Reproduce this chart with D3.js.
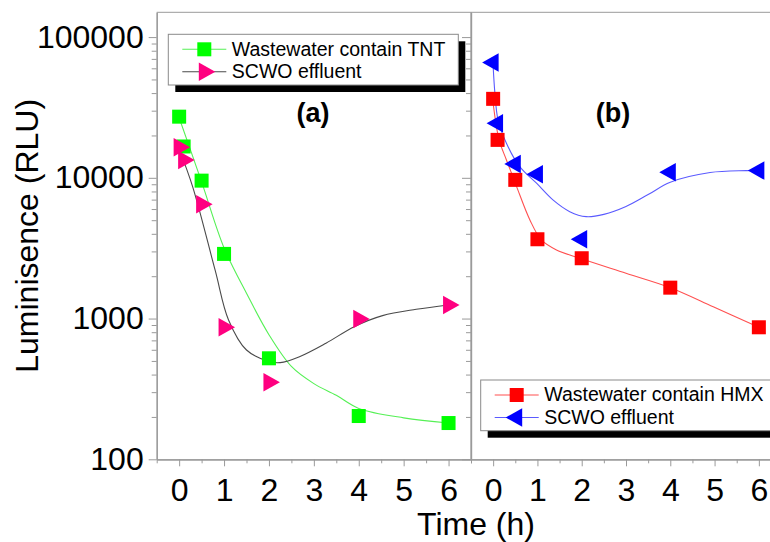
<!DOCTYPE html>
<html>
<head>
<meta charset="utf-8">
<script src="https://cdn.jsdelivr.net/npm/d3@7"></script>
<style>
  html, body { margin: 0; padding: 0; background: #ffffff; }
  svg { display: block; font-family: "Liberation Sans", Arial, sans-serif; }
</style>
</head>
<body>
<svg id="chart" width="770" height="542"></svg>
<script>
// Sampling times (h) shared by all measured series
const times = [0, 0.1, 0.5, 1, 2, 4, 6];

// Panel (a): TNT wastewater and its SCWO effluent (RLU)
const lumTNT = [27200, 16700, 9550, 2880, 522, 203, 181];
const lumEffluentA = [16500, 13400, 6490, 867, 353, 994, 1250];

// Panel (b): HMX wastewater and its SCWO effluent (RLU)
const lumHMX = [36400, 18600, 9670, 3660, 2683, 1658, 867];
const lumEffluentB = [65900, 24400, 12560, 10600, 3660, 10960, 11250];

// Smoothed fit curves, sampled along each trend line
const fitTNTTime = [0, 0.5, 1, 1.5, 2, 2.5, 3, 3.5, 4, 5, 6];
const fitTNTLum = [26700, 9350, 3175, 1513, 768, 457, 345, 285, 230, 197, 181];

const fitEffATime = [0, 0.3, 0.8, 1.1, 1.5, 2, 2.25, 2.68, 3.27, 3.9, 4.53, 5.28, 6];
const fitEffALum = [16000, 8660, 2215, 978, 598, 496, 486, 536, 668, 876, 1049, 1164, 1250];

const fitHMXTime = [0, 0.135, 0.3, 0.53, 0.83, 1.09, 1.43, 1.96, 3, 4, 4.97, 6];
const fitHMXLum = [33900, 18600, 13400, 8660, 5020, 3620, 3073, 2683, 2099, 1658, 1215, 867];

const fitEffBTime = [0, 0.04, 0.11, 0.3, 0.6, 0.98, 1.35, 1.73, 2.1, 2.5, 3, 3.5, 4, 4.9, 5.72, 6];
const fitEffBLum = [62400, 39900, 25800, 17600, 12010, 9155, 6966, 5750, 5300, 5500, 6250, 7600, 9300, 10900, 11250, 11300];

// Axis ticks and labels
const xTicks = [0, 1, 2, 3, 4, 5, 6];
const xMinorTicks = [-0.5, 0.5, 1.5, 2.5, 3.5, 4.5, 5.5, 6.5];
const yTicks = [100, 1000, 10000, 100000];
const yMinorTicks = [200, 300, 400, 500, 600, 700, 800, 900,
  2000, 3000, 4000, 5000, 6000, 7000, 8000, 9000,
  20000, 30000, 40000, 50000, 60000, 70000, 80000, 90000];

const legendA = ["Wastewater contain TNT", "SCWO effluent"];
const legendB = ["Wastewater contain HMX", "SCWO effluent"];
const panelLabels = ["(a)", "(b)"];
const yTitle = "Luminisence (RLU)";
const xTitle = "Time (h)";

// ---- layout ----
const plotTop = 12.3, plotBottom = 459.3, plotLeft = 156.7, divider = 471, plotRightB = 781;
const frameColor = "#9a9a9a";
const font = 32;

const svg = d3.select("#chart");

const y = d3.scaleLog().domain([100, 150000]).range([plotBottom, plotTop]);
const xA = d3.scaleLinear().domain([-0.5, 6.5]).range([plotLeft, divider]);
const xB = d3.scaleLinear().domain([-0.5, 6.5]).range([divider, plotRightB]);

// ---- frame ----
svg.append("line").attr("x1", plotLeft).attr("x2", plotRightB).attr("y1", plotTop).attr("y2", plotTop)
  .attr("stroke", frameColor).attr("stroke-width", 1);
svg.append("line").attr("x1", divider).attr("x2", divider).attr("y1", plotTop).attr("y2", plotBottom)
  .attr("stroke", frameColor).attr("stroke-width", 1.2);

function styleAxis(g) {
  g.selectAll(".domain").attr("stroke", frameColor).attr("stroke-width", 1.2);
  g.selectAll(".tick line").attr("stroke", frameColor).attr("stroke-width", 1);
  g.selectAll("text").attr("fill", "#000").attr("font-size", font)
    .attr("font-family", "'Liberation Sans', Arial, sans-serif");
}

// left y axis
const yAxis = svg.append("g").attr("transform", `translate(${plotLeft},0)`)
  .call(d3.axisLeft(y).tickValues(yTicks).tickFormat(d3.format("d")).tickSize(8).tickSizeOuter(0));
yAxis.selectAll("text").attr("x", -13).attr("dy", "0.31em");
styleAxis(yAxis);
const yMinor = svg.append("g").attr("transform", `translate(${plotLeft},0)`)
  .call(d3.axisLeft(y).tickValues(yMinorTicks).tickFormat("").tickSize(5).tickSizeOuter(0));
styleAxis(yMinor);

// mirrored ticks on the divider
const yMirror = svg.append("g").attr("transform", `translate(${divider},0)`)
  .call(d3.axisLeft(y).tickValues(yTicks).tickFormat("").tickSize(9).tickSizeOuter(0));
styleAxis(yMirror);
const yMirrorMinor = svg.append("g").attr("transform", `translate(${divider},0)`)
  .call(d3.axisLeft(y).tickValues(yMinorTicks).tickFormat("").tickSize(5).tickSizeOuter(0));
styleAxis(yMirrorMinor);

// bottom x axes for both panels
[xA, xB].forEach(x => {
  const g = svg.append("g").attr("transform", `translate(0,${plotBottom})`)
    .call(d3.axisBottom(x).tickValues(xTicks).tickFormat(d3.format("d")).tickSize(7).tickSizeOuter(0));
  g.selectAll("text").attr("y", 41.5).attr("dy", null);
  styleAxis(g);
  const gm = svg.append("g").attr("transform", `translate(0,${plotBottom})`)
    .call(d3.axisBottom(x).tickValues(xMinorTicks).tickFormat("").tickSize(4).tickSizeOuter(0));
  styleAxis(gm);
});

// axis titles
svg.append("text").attr("transform", `translate(38,${(plotTop + plotBottom) / 2}) rotate(-90)`)
  .attr("text-anchor", "middle").attr("font-size", font).attr("fill", "#000").text(yTitle);
svg.append("text").attr("x", 476).attr("y", 535)
  .attr("text-anchor", "middle").attr("font-size", font).attr("fill", "#000").text(xTitle);

// panel labels
svg.append("text").attr("x", 313).attr("y", 122).attr("text-anchor", "middle")
  .attr("font-size", 27).attr("font-weight", "bold").text(panelLabels[0]);
svg.append("text").attr("x", 613).attr("y", 122).attr("text-anchor", "middle")
  .attr("font-size", 27).attr("font-weight", "bold").text(panelLabels[1]);

// ---- marker shapes ----
const SQ = 14, TW = 16.5, TH = 18.5;
function triPath(dir) {
  // centroid at origin; dir = 1 points right, -1 points left
  const tip = dir * 2 * TW / 3, base = -dir * TW / 3;
  return `M${tip},0L${base},${-TH / 2}L${base},${TH / 2}Z`;
}
function drawSquares(g, xs, ys, color) {
  g.selectAll(null).data(xs.map((t, i) => [t, ys[i]])).join("rect")
    .attr("x", d => d[0] - SQ / 2).attr("y", d => d[1] - SQ / 2)
    .attr("width", SQ).attr("height", SQ).attr("fill", color);
}
function drawTriangles(g, xs, ys, color, dir) {
  g.selectAll(null).data(xs.map((t, i) => [t, ys[i]])).join("path")
    .attr("transform", d => `translate(${d[0]},${d[1]})`)
    .attr("d", triPath(dir)).attr("fill", color);
}

const lineGen = d3.line().curve(d3.curveCatmullRom.alpha(0.5));
function drawFit(x, ts, vs, color) {
  svg.append("path")
    .attr("d", lineGen(ts.map((t, i) => [x(t), y(vs[i])])))
    .attr("fill", "none").attr("stroke", color).attr("stroke-width", 1.1);
}

const colTNT = "#00ff00", colEffA = "#ff0080", colHMX = "#ff0000", colEffB = "#0000ff";
const lineTNT = "#55f055", lineEffA = "#4a4a4a", lineHMX = "#ff5050", lineEffB = "#5a5aff";

// ---- panel (a) ----
drawFit(xA, fitTNTTime, fitTNTLum, lineTNT);
drawFit(xA, fitEffATime, fitEffALum, lineEffA);
const gA = svg.append("g");
drawSquares(gA, times.map(xA), lumTNT.map(y), colTNT);
drawTriangles(gA, times.map(xA), lumEffluentA.map(y), colEffA, 1);

// ---- panel (b) ----
drawFit(xB, fitHMXTime, fitHMXLum, lineHMX);
drawFit(xB, fitEffBTime, fitEffBLum, lineEffB);
const gB = svg.append("g");
drawSquares(gB, times.map(xB), lumHMX.map(y), colHMX);
drawTriangles(gB, times.map(xB), lumEffluentB.map(y), colEffB, -1);

// ---- legends ----
function legend(x0, y0, w, labels, items) {
  const g = svg.append("g").attr("transform", `translate(${x0},${y0})`);
  g.append("rect").attr("x", 7).attr("y", 7).attr("width", w).attr("height", 50.7).attr("fill", "#000");
  g.append("rect").attr("x", 0).attr("y", 0).attr("width", w).attr("height", 50.7)
    .attr("fill", "#fff").attr("stroke", "#8a8a8a").attr("stroke-width", 1);
  const rows = [15, 37.5];
  items.forEach((it, i) => {
    const ry = rows[i];
    g.append("line").attr("x1", 14).attr("x2", 58).attr("y1", ry).attr("y2", ry)
      .attr("stroke", it.line).attr("stroke-width", 1.1);
    if (it.shape === "square") {
      g.append("rect").attr("x", 36 - SQ / 2).attr("y", ry - SQ / 2)
        .attr("width", SQ).attr("height", SQ).attr("fill", it.color);
    } else {
      g.append("path").attr("transform", `translate(36,${ry})`)
        .attr("d", triPath(it.dir)).attr("fill", it.color);
    }
    g.append("text").attr("x", 63.5).attr("y", ry + 6.3).attr("font-size", 19.5)
      .attr("fill", "#000").text(labels[i]);
  });
}
legend(168.3, 34.3, 290, legendA, [
  { shape: "square", color: colTNT, line: lineTNT },
  { shape: "tri", dir: 1, color: colEffA, line: lineEffA }
]);
legend(480.7, 380, 300, legendB, [
  { shape: "square", color: colHMX, line: lineHMX },
  { shape: "tri", dir: -1, color: colEffB, line: lineEffB }
]);
</script>
</body>
</html>
